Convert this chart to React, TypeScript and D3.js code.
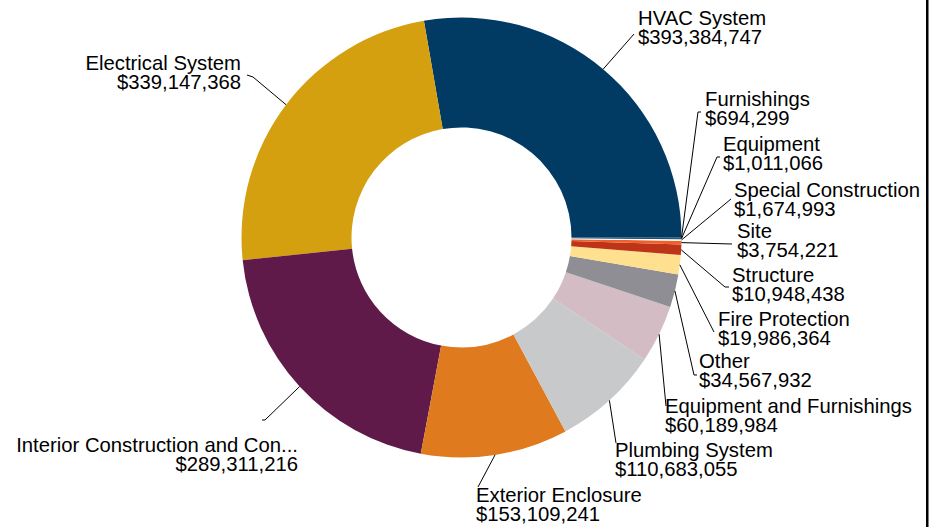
import React from 'react';
import * as d3 from 'd3';

const categories = [
  'HVAC System',
  'Electrical System',
  'Interior Construction and Con...',
  'Exterior Enclosure',
  'Plumbing System',
  'Equipment and Furnishings',
  'Other',
  'Fire Protection',
  'Structure',
  'Site',
  'Special Construction',
  'Equipment',
  'Furnishings',
];
const values = [
  393384747, 339147368, 289311216, 153109241, 110683055, 60189984, 34567932,
  19986364, 10948438, 3754221, 1674993, 1011066, 694299,
];
const colors = [
  '#013A63', '#D5A00F', '#601A4A', '#E07A1E', '#C8C9CB', '#D3BCC4', '#8E8E94',
  '#FFE08F', '#BE3418', '#EE6128', '#FFFFFF', '#013A63', '#013A63',
];

// label layout: leader bend points, text x, name baseline, anchor
const labelLayout: { pts: [number, number][]; x: number; y: number; anchor: string }[] = [
  { pts: [[634, 34]], x: 638, y: 25, anchor: 'start' },
  { pts: [[253, 77], [247, 75]], x: 241, y: 70, anchor: 'end' },
  { pts: [[265, 420], [262, 420]], x: 298, y: 452, anchor: 'end' },
  { pts: [[478, 487]], x: 476, y: 502, anchor: 'start' },
  { pts: [[616, 443]], x: 615, y: 457, anchor: 'start' },
  { pts: [[666, 406]], x: 665, y: 413, anchor: 'start' },
  { pts: [[694, 375], [697, 375]], x: 699, y: 368, anchor: 'start' },
  { pts: [[714, 332]], x: 718, y: 326, anchor: 'start' },
  { pts: [[725, 287], [729, 287]], x: 732, y: 282, anchor: 'start' },
  { pts: [[732, 244]], x: 737, y: 238, anchor: 'start' },
  { pts: [[731, 199]], x: 734, y: 197, anchor: 'start' },
  { pts: [[717, 157], [720, 157]], x: 723, y: 151, anchor: 'start' },
  { pts: [[698, 112], [701, 112]], x: 705, y: 106, anchor: 'start' },
];

const W = 944;
const H = 527;
const cx = 461.5;
const cy = 237.5;
const R = 220;
const r = 110;
const fmt = d3.format('$,');

export default function App() {
  const pie = d3
    .pie<number>()
    .sort(null)
    .startAngle(Math.PI / 2)
    .endAngle(Math.PI / 2 - 2 * Math.PI);
  const arcs = pie(values);
  const arc = d3.arc<d3.PieArcDatum<number>>().innerRadius(r).outerRadius(R);
  const line = d3.line();
  const font = '"Liberation Sans", Arial, Helvetica, sans-serif';

  return (
    <div style={{ position: 'absolute', left: 0, top: 0, width: W, height: H, background: '#fff' }}>
      <svg width={W} height={H} style={{ display: 'block' }}>
        <rect x={0} y={0} width={W} height={H} fill="#fff" />
        <g transform={`translate(${cx},${cy})`}>
          {arcs.map((a, i) => (
            <path key={i} d={arc(a) || ''} fill={colors[i]} />
          ))}
        </g>
        {arcs.map((a, i) => {
          const mid = (a.startAngle + a.endAngle) / 2;
          const sx = cx + R * Math.sin(mid);
          const sy = cy - R * Math.cos(mid);
          const L = labelLayout[i];
          const pts: [number, number][] = [[sx, sy], ...L.pts];
          return (
            <g key={'l' + i}>
              <path d={line(pts) || ''} fill="none" stroke="#000" strokeWidth={1} />
              <text
                x={L.x}
                y={L.y}
                textAnchor={L.anchor as any}
                fontFamily={font}
                fontSize={20.3}
                fill="#000"
              >
                {categories[i]}
              </text>
              <text
                x={L.x}
                y={L.y + 19}
                textAnchor={L.anchor as any}
                fontFamily={font}
                fontSize={20.3}
                fill="#000"
              >
                {fmt(values[i])}
              </text>
            </g>
          );
        })}
        <rect x={926} y={0} width={2.5} height={H} fill="#000" />
      </svg>
    </div>
  );
}
